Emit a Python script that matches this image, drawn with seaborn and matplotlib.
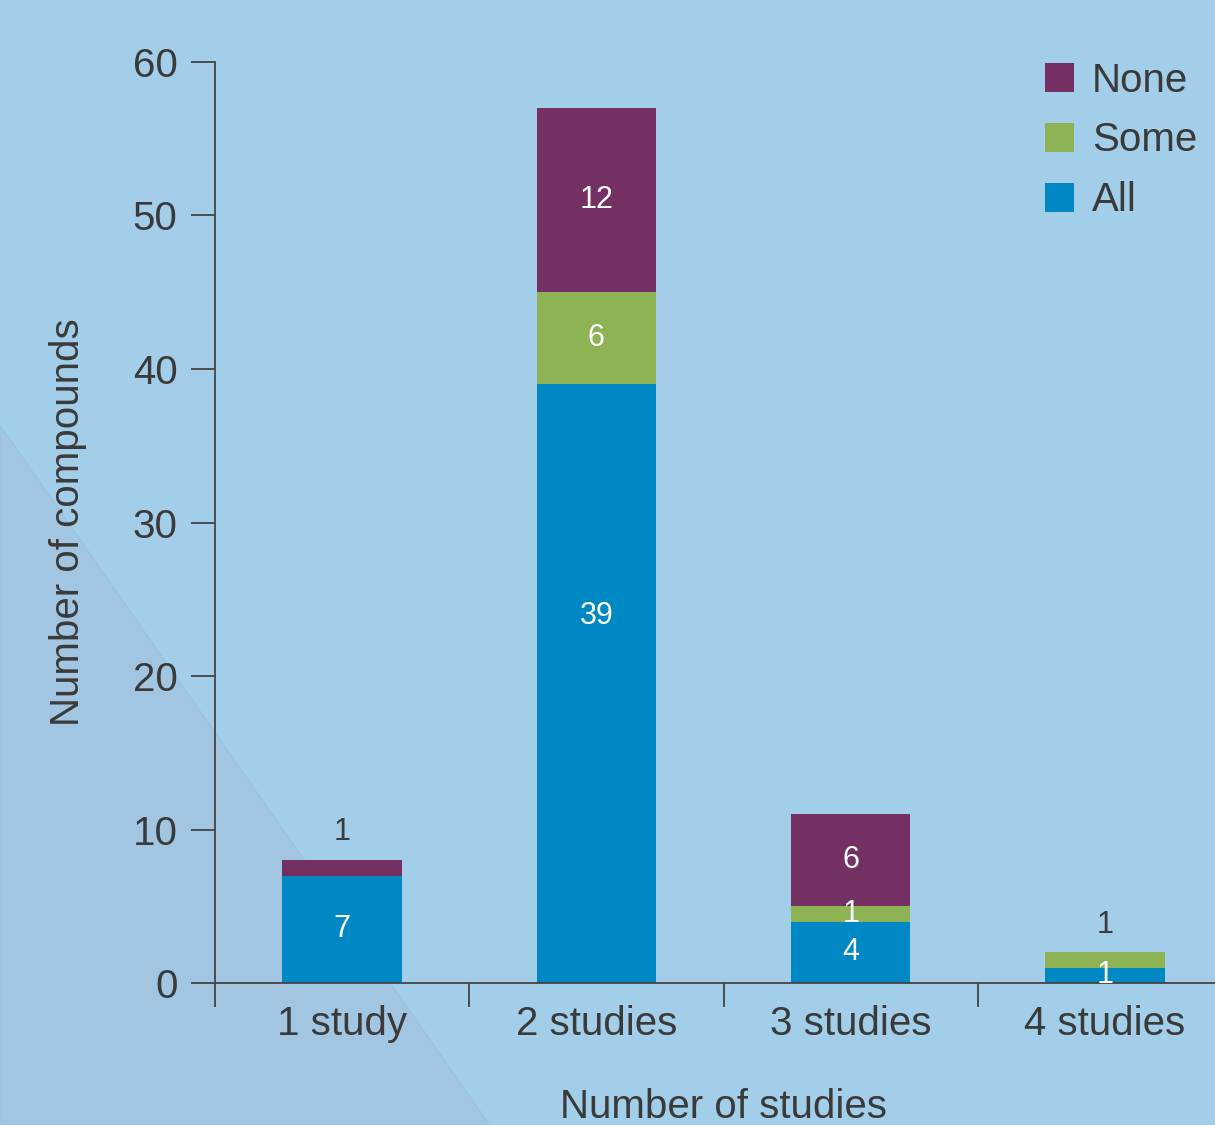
import matplotlib
matplotlib.use("Agg")
import matplotlib.pyplot as plt
from matplotlib.patches import Polygon, Patch
import seaborn as sns
import numpy as np

# Data
categories = ["1 study", "2 studies", "3 studies", "4 studies"]
all_vals = [7, 39, 4, 1]
some_vals = [0, 6, 1, 1]
none_vals = [1, 12, 6, 0]

series_names = ["None", "Some", "All"]
colors = {"All": "#0088c4", "Some": "#8db354", "None": "#742f63"}
bg = "#a3cee9"
text_dark = "#3a3a3a"

sns.set_theme(style="white")
plt.rcParams["font.family"] = ["Liberation Sans", "DejaVu Sans"]

fig = plt.figure(figsize=(12.15, 11.25), dpi=100, facecolor=bg)

# Shaded triangle in the lower-left corner, behind everything
tri = Polygon([(0, 0), (0, 0.622), (0.403, 0)], closed=True,
              transform=fig.transFigure, facecolor="#a2c6e1",
              edgecolor="#94c5e6", linewidth=1.0, zorder=-5)
fig.patches.append(tri)

ax = fig.add_axes([0.177, 0.1262, 0.837, 0.8187])
ax.set_facecolor("none")
ax.set_zorder(1)

a = np.array(all_vals, dtype=float)
s = np.array(some_vals, dtype=float)
n = np.array(none_vals, dtype=float)

# Stacked bars drawn as cumulative layers, tallest first
sns.barplot(x=categories, y=a + s + n, color=colors["None"], width=0.47,
            saturation=1, ax=ax, linewidth=0, zorder=2)
sns.barplot(x=categories, y=a + s, color=colors["Some"], width=0.47,
            saturation=1, ax=ax, linewidth=0, zorder=3)
sns.barplot(x=categories, y=a, color=colors["All"], width=0.47,
            saturation=1, ax=ax, linewidth=0, zorder=4)

# Segment labels
stack = [("All", a, np.zeros_like(a)), ("Some", s, a), ("None", n, a + s)]
totals = a + s + n
for name, vals, base in stack:
    for i, v in enumerate(vals):
        if v <= 0:
            continue
        top = base[i] + v
        if v <= 1 and top >= totals[i] and i in (0, 3):
            # thin top segment: label sits above the bar
            ax.annotate(f"{int(v)}", xy=(i, top), xytext=(0, 20),
                        textcoords="offset points", ha="center", va="center",
                        fontsize=22, color=text_dark, zorder=6)
        else:
            # tall segment label is lifted a bit above its middle
            lift = 49 if v > 30 else 0
            ax.annotate(f"{int(v)}", xy=(i, base[i] + v / 2), xytext=(0, lift),
                        textcoords="offset points", ha="center", va="center",
                        fontsize=22, color="white", zorder=6)

ax.set_ylim(0, 60)
ax.set_xlim(-0.5, 3.5)
ax.set_yticks(range(0, 61, 10))
ax.tick_params(axis="y", which="major", length=17, width=1.3,
               color="#444444", labelsize=29, labelcolor=text_dark, pad=10,
               left=True)
ax.set_xticks(range(4))
ax.set_xticklabels(categories)
ax.set_xticks([-0.5, 0.5, 1.5, 2.5], minor=True)
ax.tick_params(axis="x", which="major", length=0, labelsize=29,
               labelcolor=text_dark, pad=16)
ax.tick_params(axis="x", which="minor", length=17, width=1.3,
               color="#444444", bottom=True)

for side in ("top", "right"):
    ax.spines[side].set_visible(False)
for side in ("left", "bottom"):
    ax.spines[side].set_color("#444444")
    ax.spines[side].set_linewidth(1.3)
    ax.spines[side].set_zorder(5)

ax.set_xlabel("Number of studies", fontsize=29, color=text_dark)
ax.set_ylabel("Number of compounds", fontsize=29, color=text_dark)
ax.xaxis.set_label_coords(0.5, -0.114)
ax.yaxis.set_label_coords(-0.126, 0.5)

handles = [Patch(facecolor=colors[k], edgecolor="none") for k in series_names]
leg = ax.legend(handles, series_names, loc="upper left",
                bbox_to_anchor=(0.816, 1.0005), frameon=False, fontsize=29,
                borderaxespad=0, borderpad=0,
                handlelength=0.72, handleheight=0.72, handletextpad=0.45,
                labelspacing=0.545, labelcolor=text_dark)

fig.savefig("out.png", dpi=100, facecolor=bg)
